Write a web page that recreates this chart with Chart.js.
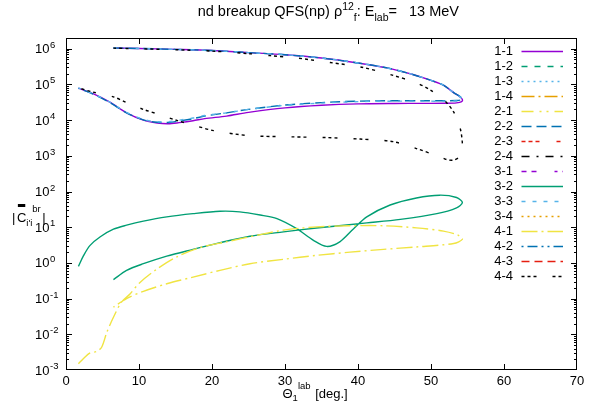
<!DOCTYPE html>
<html><head><meta charset="utf-8">
<script src="https://cdn.jsdelivr.net/npm/chart.js@4.4.1/dist/chart.umd.min.js"></script>
<style>html,body{margin:0;padding:0;background:#fff}</style>
</head><body>
<canvas id="c" width="600" height="420"></canvas>
<script>
// ---- series labels & styles ----
const seriesLabels = ['1-1','1-2','1-3','1-4','2-1','2-2','2-3','2-4','3-1','3-2','3-3','3-4','4-1','4-2','4-3','4-4'];
const seriesColors = ['#9400d3','#009e73','#56b4e9','#e69f00','#f0e442','#0072b2','#e51e10','#000000',
                      '#9400d3','#009e73','#56b4e9','#e69f00','#f0e442','#0072b2','#e51e10','#000000'];
const seriesDashes = [[],[6,7],[2,4],[13,4,2,4],[12,6,2,5,2,6],[10,5],[4,3,4,3,4,17],[8,7,2,7],
                      [5,5,5,18,3,5],[],[4,7],[2,4],[16,4,2,4],[2,4,10,4,2,4],[8,5],[3,3,3,3,3,16]];
const xTicks = [0,10,20,30,40,50,60,70];
const yDecades = [-3,-2,-1,0,1,2,3,4,5,6];

// ---- data (theta_1^lab in deg, |C| values) ----
const theta11 = [6.5,10,15,20,25,30,35,40,44,47.5,50,51.7,53.1,53.9,54.3,54.2,53.5,52,49,45,40,35,30,25,22,19,17.4,15.5,14,12.5,10.6,8.3,6,3.7,1.7];
const c11 = [1.05e6,1.02e6,9.6e5,8.9e5,7.8e5,6.8e5,5.5e5,4.0e5,2.9e5,1.9e5,1.3e5,9.5e4,5.9e4,4.6e4,3.8e4,3.3e4,3.05e4,2.97e4,2.95e4,2.93e4,2.85e4,2.6e4,2.2e4,1.65e4,1.3e4,1.1e4,9.6e3,8.5e3,7.9e3,8.3e3,1.0e4,1.6e4,3.2e4,5.5e4,7.9e4];
const theta22 = theta11;
const c22 = [1.05e6,1.02e6,9.6e5,8.9e5,7.8e5,6.8e5,5.5e5,4.0e5,2.9e5,1.9e5,1.3e5,9.5e4,5.9e4,4.7e4,4.0e4,3.7e4,3.55e4,3.5e4,3.5e4,3.5e4,3.4e4,3.1e4,2.65e4,2.0e4,1.6e4,1.3e4,1.1e4,9.5e3,8.6e3,8.7e3,1.02e4,1.6e4,3.1e4,5.4e4,7.8e4];
const theta33 = theta11;
const c33 = [1.05e6,1.02e6,9.6e5,8.9e5,7.8e5,6.8e5,5.5e5,4.0e5,2.9e5,1.9e5,1.3e5,9.5e4,5.9e4,4.6e4,3.9e4,3.6e4,3.45e4,3.4e4,3.4e4,3.4e4,3.3e4,3.0e4,2.6e4,2.0e4,1.6e4,1.35e4,1.15e4,1.0e4,9.0e3,9.0e3,1.05e4,1.65e4,3.2e4,5.5e4,8.0e4];
const theta44 = [6.5,10,15,20,25,28,31.6,36.2,40.3,44.4,48,49.9,51.7,53.1,54.0,54.3,54.2,53.8,53.1,52.2,51.2,48,44.8,40.3,35.7,31,25,20.2,17.4,15.2,12.5,10.6,8.3,6.5,3.7,1.7];
const c44 = [1.04e6,1.0e6,9.4e5,8.6e5,7.3e5,6.4e5,5.5e5,4.1e5,3.1e5,1.9e5,1.1e5,7.0e4,3.8e4,1.7e4,5.9e3,2.2e3,1.3e3,900,760,780,940,1.6e3,2.5e3,2.95e3,3.25e3,3.4e3,3.7e3,5.1e3,7.3e3,9.8e3,1.5e4,2.0e4,3.1e4,4.5e4,6.1e4,8.0e4];
const theta32 = [1.7,2.4,3.3,4.7,6.5,8.3,10.6,13.8,17.4,21.1,23.8,26.6,28.9,31.6,33.9,35.7,37.5,39.4,41.2,44.4,48,51.2,53.5,54.3,53.5,50.8,45.8,41.2,34.3,29.8,25.2,21.1,17.4,13.8,10.6,8.3,6.5];
const c32 = [0.8,1.6,3.1,5.4,8.8,11.4,14.8,19.5,24,28,27,22,17.4,9.1,4.3,2.9,3.9,9.1,19.5,42,66,79,68,49,35,24,16.6,13.2,9.5,7.4,5.6,3.7,2.4,1.55,0.95,0.62,0.34];
const theta41 = [1.7,2.4,3.3,4.2,4.9,5.6,6.5,7.6,8.8,10.1,12.4,15.2,18.4,22,26.6,29.8,34.3,38.9,43.5,48,51.7,53.7,54.3,53.1,48,43.5,38.9,34.3,29.8,25.2,21.1,17.4,13.8,10.6,8.3,6.5];
const c41 = [1.5e-3,2.1e-3,3.0e-3,3.3e-3,4.4e-3,0.0115,0.03,0.08,0.137,0.28,0.66,1.48,2.7,3.9,6.2,8.3,10.2,11,11,9.6,7.8,6.0,4.6,3.5,2.8,2.4,2.0,1.63,1.26,0.95,0.62,0.40,0.26,0.16,0.10,0.058];
const none = [];

const seriesX = [theta11,none,none,none,none,theta22,none,none,none,theta32,theta33,none,theta41,none,none,theta44];
const seriesY = [c11,none,none,none,none,c22,none,none,none,c32,c33,none,c41,none,none,c44];

const FONT = '"Liberation Sans", Arial, Helvetica, sans-serif';

const datasets = seriesLabels.map((lab, i) => ({
  label: lab,
  data: seriesX[i].map((x, j) => ({x: x, y: seriesY[i][j]})),
  borderColor: seriesColors[i],
  backgroundColor: seriesColors[i],
  borderDash: seriesDashes[i],
  borderWidth: 1.4,
  pointRadius: 0,
  showLine: true,
  fill: false,
  tension: 0.3,
  order: 16 - i
}));

function put(ctx, s, x, y, size) {
  ctx.font = size + 'px ' + FONT;
  ctx.fillText(s, x, y);
  return ctx.measureText(s).width;
}
function width(ctx, s, size) { ctx.font = size + 'px ' + FONT; return ctx.measureText(s).width; }

const decor = {
  id: 'decor',
  afterDraw(chart) {
    const ctx = chart.ctx, a = chart.chartArea;
    const xs = chart.scales.x, ys = chart.scales.y;
    ctx.save();
    ctx.strokeStyle = '#000'; ctx.lineWidth = 1; ctx.setLineDash([]);
    // frame
    ctx.strokeRect(Math.round(a.left) + 0.5, Math.round(a.top) + 0.5, Math.round(a.right - a.left) - 1, Math.round(a.bottom - a.top) - 1);
    ctx.beginPath();
    // x major ticks
    xTicks.forEach(v => {
      const px = Math.round(xs.getPixelForValue(v)) + 0.5;
      if (v === 0 || v === 70) return;
      ctx.moveTo(px, a.bottom); ctx.lineTo(px, a.bottom - 6);
      ctx.moveTo(px, a.top); ctx.lineTo(px, a.top + 6);
    });
    // y ticks
    yDecades.forEach(n => {
      for (let k = 1; k <= 9; k++) {
        const v = k * Math.pow(10, n);
        const py = Math.round(ys.getPixelForValue(v)) + 0.5;
        if (py < a.top + 1 || py > a.bottom - 1) continue;
        const len = k === 1 ? 6 : 3;
        ctx.moveTo(a.left, py); ctx.lineTo(a.left + len, py);
        ctx.moveTo(a.right, py); ctx.lineTo(a.right - len, py);
      }
    });
    ctx.stroke();

    ctx.fillStyle = '#000';
    ctx.textAlign = 'left';
    ctx.textBaseline = 'alphabetic';
    // y tick labels 10^n
    yDecades.forEach(n => {
      const py = ys.getPixelForValue(Math.pow(10, n));
      const w = width(ctx, '10', 13);
      put(ctx, '10', 49.5 - w, py + 4.5, 13);
      put(ctx, n < 0 ? '-' + (-n) : String(n), 50, py - 1, 9.5);
    });

    // title
    const tparts = [['nd breakup QFS(np) ρ', 14.5, 16], ['12', 10.5, 10], ['f', 10.5, 20.5], [': E', 14.5, 16], ['lab', 10.5, 21], ['=   13 MeV', 14.5, 16]];
    let tw = 0; tparts.forEach(p => tw += width(ctx, p[0], p[1]));
    let tx = 459 - tw;
    tparts.forEach(p => { tx += put(ctx, p[0], tx, p[2], p[1]); });

    // x axis title
    let xx = 282.5;
    xx += put(ctx, 'Θ', xx, 397.5, 13);
    xx += put(ctx, '1', xx, 401, 9.5);
    xx += put(ctx, 'lab', xx, 388.5, 9.5);
    put(ctx, ' [deg.]', xx + 1, 397.5, 13);

    // y axis title |C̄_{i'i}^{br}|
    let yx = 12;
    yx += put(ctx, '|', yx, 222, 13);
    yx += 1.5;
    const cw = put(ctx, 'C', yx, 222, 13);
    ctx.fillRect(yx + 1, 204, cw - 2, 3);
    yx += cw;
    const sw = put(ctx, "i'i", yx, 226, 9.5);
    const bw = put(ctx, 'br', yx + sw, 212, 9.5);
    put(ctx, '|', yx + sw + bw + 1.5, 222, 13);

    // legend
    seriesLabels.forEach((lab, i) => {
      const cy = 50.7 + 15 * i;
      const w = width(ctx, lab, 13);
      put(ctx, lab, 513 - w, cy + 4.6, 13);
      ctx.beginPath();
      ctx.strokeStyle = seriesColors[i];
      ctx.lineWidth = 1.4;
      ctx.setLineDash(seriesDashes[i]);
      ctx.moveTo(521.5, Math.round(cy) + 0.5);
      ctx.lineTo(563, Math.round(cy) + 0.5);
      ctx.stroke();
    });
    ctx.restore();
  }
};

new Chart(document.getElementById('c'), {
  type: 'scatter',
  data: { datasets: datasets },
  options: {
    responsive: false,
    animation: false,
    devicePixelRatio: 1,
    layout: { padding: { left: 0, top: 38, right: 23, bottom: 0 } },
    plugins: { legend: { display: false }, tooltip: { enabled: false }, title: { display: false } },
    scales: {
      x: {
        type: 'linear', min: 0, max: 70,
        afterBuildTicks: s => { s.ticks = xTicks.map(v => ({ value: v })); },
        ticks: { color: '#000', font: { family: FONT, size: 13 }, padding: 4, maxRotation: 0, autoSkip: false },
        grid: { display: false, drawTicks: false },
        border: { display: false },
        afterFit: s => { s.height = 50; }
      },
      y: {
        type: 'logarithmic', min: 1e-3, max: 2e6,
        afterBuildTicks: s => { s.ticks = yDecades.map(n => ({ value: Math.pow(10, n) })); },
        ticks: { display: false },
        grid: { display: false, drawTicks: false },
        border: { display: false },
        afterFit: s => { s.width = 66; }
      }
    }
  },
  plugins: [decor]
});
</script>
</body></html>
